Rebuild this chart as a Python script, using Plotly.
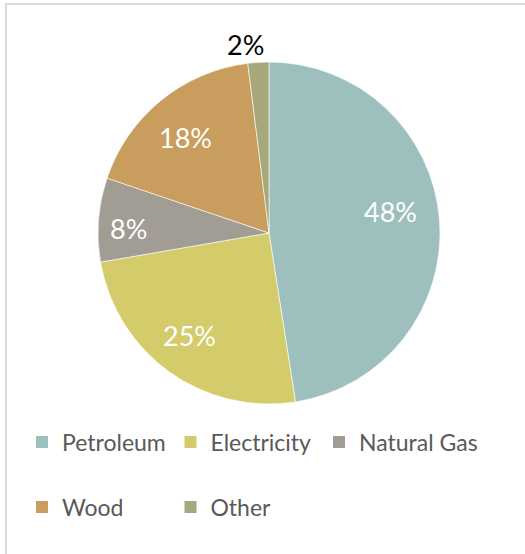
import math
import plotly.graph_objects as go

categories = ["Petroleum", "Electricity", "Natural Gas", "Wood", "Other"]
shares = [48, 25, 8, 18, 2]
colors = ["#9DBFBE", "#D4CC6B", "#A19C94", "#C89D5D", "#A7A77C"]
label_colors = ["white", "white", "white", "white", "black"]
label_radius = [0.72, 0.76, 0.82, 0.74, 1.11]   # fraction of pie radius
label_angle_shift = [-5.5, 2.3, -2.5, -1.9, -3.4]  # degrees, best-fit nudges
legend_col = [0, 1, 2, 0, 1]
legend_row = [0, 0, 0, 1, 1]

W, H = 525, 554
# pie placement (pixels)
left, right, top, bottom = 98, 440, 62, 404
cx, cy = (left + right) / 2, (top + bottom) / 2
R = (right - left) / 2

# legend grid (pixels)
legend_x0, legend_dx = 22, 148.5
legend_y0, legend_dy = 442, 65

fig = go.Figure()
fig.add_trace(go.Pie(
    labels=categories,
    values=shares,
    textinfo="none",
    marker=dict(colors=colors, line=dict(color="white", width=0.6)),
    sort=False,
    direction="clockwise",
    rotation=0,
    domain=dict(x=[left / W, right / W], y=[1 - bottom / H, 1 - top / H]),
    hoverinfo="label+percent",
    showlegend=False,
))

legend_style = dict(
    orientation="h", xanchor="left", yanchor="middle",
    font=dict(size=23, color="#595959", family="Lato"),
    itemclick=False, itemdoubleclick=False,
    bgcolor="rgba(0,0,0,0)",
)
legends = {}
# legend entries laid out on a grid, as in the original
for i, (name, col) in enumerate(zip(categories, colors)):
    key = "legend" if i == 0 else f"legend{i + 1}"
    fig.add_trace(go.Scatter(
        x=[None], y=[None], mode="markers", name=name,
        marker=dict(symbol="square", color=col, size=12),
        legend=key, showlegend=True, hoverinfo="skip",
    ))
    legends[key] = dict(
        x=(legend_x0 + legend_col[i] * legend_dx) / W,
        y=1 - (legend_y0 + legend_row[i] * legend_dy) / H,
        **legend_style,
    )

# percentage labels placed along each slice's mid-angle
total = sum(shares)
annotations = []
cum = 0
for v, col, rf, da in zip(shares, label_colors, label_radius, label_angle_shift):
    mid = (cum + v / 2) / total * 2 * math.pi + math.radians(da)
    cum += v
    px = cx + rf * R * math.sin(mid)
    py = cy - rf * R * math.cos(mid)
    annotations.append(dict(
        x=px / W, y=1 - py / H, xref="paper", yref="paper",
        text=f"{v}%", showarrow=False,
        font=dict(color=col, size=27, family="Lato"),
        xanchor="center", yanchor="middle",
    ))

fig.update_layout(
    width=W, height=H,
    margin=dict(l=0, r=0, t=0, b=0),
    paper_bgcolor="white",
    plot_bgcolor="white",
    font=dict(family="Lato", color="#595959", size=23),
    xaxis=dict(visible=False),
    yaxis=dict(visible=False),
    annotations=annotations,
    shapes=[dict(
        type="rect", xref="paper", yref="paper",
        x0=6 / W, x1=1.02, y0=-0.02, y1=1 - 4 / H,
        line=dict(color="#D9D9D9", width=2),
    )],
    **legends,
)

fig.write_html("out.html", config={"displayModeBar": False},
               post_script="document.body.style.margin='0';")
